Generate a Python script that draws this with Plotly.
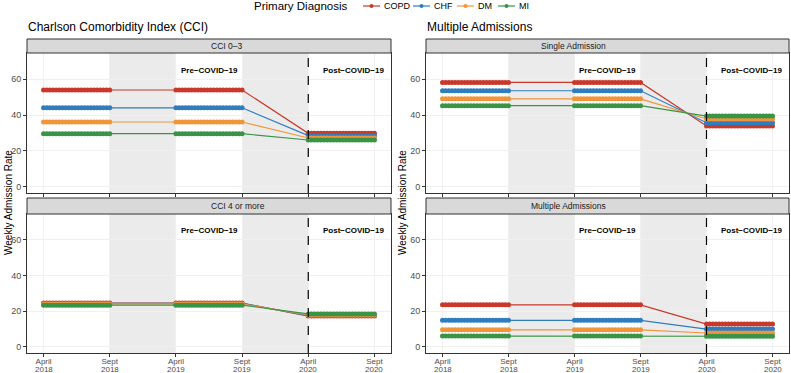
import numpy as np
import plotly.graph_objects as go

# ---------------- data ----------------
diagnoses = ["COPD", "CHF", "DM", "MI"]
colors = ["#C8392B", "#2F7DC0", "#F0953A", "#3A9445"]
period_starts = [0, 2, 4]           # index of April on the categorical time axis
weeks_per_period = 22
tick_months = ["April", "Sept", "April", "Sept", "April", "Sept"]
tick_years = ["2018", "2018", "2019", "2019", "2020", "2020"]
tick_pos = [0, 1, 2, 3, 4, 5]

# weekly admission rate level in each period (2018, 2019, 2020) per diagnosis
cci03 = {"COPD": [53.9, 53.9, 29.8], "CHF": [44.0, 44.0, 28.5],
         "DM": [36.1, 36.1, 27.2], "MI": [29.6, 29.6, 26.1]}
cci4 = {"COPD": [24.6, 24.6, 17.3], "CHF": [24.4, 24.4, 17.6],
        "DM": [24.1, 24.1, 17.9], "MI": [23.4, 23.4, 18.5]}
single = {"COPD": [58.1, 58.1, 33.9], "CHF": [53.5, 53.5, 35.7],
          "DM": [49.0, 49.0, 37.8], "MI": [45.2, 45.2, 39.4]}
multiple = {"COPD": [23.6, 23.6, 12.8], "CHF": [14.9, 14.9, 10.0],
            "DM": [9.6, 9.6, 7.8], "MI": [6.1, 6.1, 6.0]}

W, H = 791, 373
FONT = "Liberation Sans, Arial"

def px_x(p):
    return p / W

def px_y(p):
    return 1 - p / H

panels = [
    # (data, strip label, x px range, plot y px range (top, bottom), strip y px range)
    (cci03, "CCI 0\u20133", (27, 391), (53, 193), (39, 53)),
    (single, "Single Admission", (426, 789), (53, 193), (39, 53)),
    (cci4, "CCI 4 or more", (27, 391), (214, 353), (198, 214)),
    (multiple, "Multiple Admissions", (426, 789), (214, 353), (198, 214)),
]

fig = go.Figure()
shapes = []
annotations = []
layout_axes = {}

for i, (data, label, xr, yr, sr) in enumerate(panels):
    n = i + 1
    xa = "x" if n == 1 else f"x{n}"
    ya = "y" if n == 1 else f"y{n}"
    xkey = "xaxis" if n == 1 else f"xaxis{n}"
    ykey = "yaxis" if n == 1 else f"yaxis{n}"
    xd = [px_x(xr[0]), px_x(xr[1])]
    yd = [px_y(yr[1]), px_y(yr[0])]
    sd = [px_y(sr[1]), px_y(sr[0])]
    for d, c in zip(diagnoses, colors):
        xs, ys = [], []
        for p0, lvl in zip(period_starts, data[d]):
            wx = np.linspace(p0, p0 + 1, weeks_per_period)
            xs.extend(wx.tolist())
            ys.extend([lvl] * weeks_per_period)
        fig.add_trace(go.Scatter(
            x=xs, y=ys, mode="lines+markers", name=d,
            line=dict(color=c, width=1.2),
            marker=dict(color=c, size=5),
            showlegend=False, legendgroup=d,
            xaxis=xa, yaxis=ya, hoverinfo="skip"))
    layout_axes[xkey] = dict(
        domain=xd, anchor=ya, range=[-0.25, 5.25],
        tickmode="array", tickvals=tick_pos, ticktext=tick_months,
        tickfont=dict(size=8, color="#4D4D4D", family=FONT),
        ticks="outside", ticklen=3, tickcolor="#333333",
        ticklabelstandoff=-3,
        showline=True, mirror=True, linecolor="#333333", linewidth=1,
        showgrid=True, gridcolor="#F0F0F0", gridwidth=0.5, zeroline=False,
        showticklabels=(n >= 3), fixedrange=True)
    layout_axes[ykey] = dict(
        domain=yd, anchor=xa, range=[-3.4, 74.5],
        tickmode="array", tickvals=[0, 20, 40, 60], ticktext=["0", "20", "40", "60"],
        tickfont=dict(size=9, color="#4D4D4D", family=FONT),
        ticks="outside", ticklen=3, tickcolor="#333333",
        showline=True, mirror=True, linecolor="#333333", linewidth=1,
        showgrid=True, gridcolor="#F0F0F0", gridwidth=0.5, zeroline=False,
        fixedrange=True)
    if n >= 3:
        # second line of the x tick labels (year)
        for tp, yr_txt in zip(tick_pos, tick_years):
            annotations.append(dict(text=yr_txt, xref=xa, yref="paper", x=tp, y=px_y(369.5),
                                    xanchor="center", yanchor="middle", showarrow=False,
                                    font=dict(size=8, color="#4D4D4D", family=FONT)))
    # shaded gaps between observation periods
    for x0, x1 in [(1, 2), (3, 4)]:
        shapes.append(dict(type="rect", xref=xa, yref="paper", x0=x0, x1=x1, y0=yd[0], y1=yd[1],
                           fillcolor="#EBEBEB", line=dict(width=0), layer="below"))
    # COVID dashed line
    shapes.append(dict(type="line", xref=xa, yref="paper", x0=4, x1=4, y0=yd[0], y1=yd[1],
                       line=dict(color="black", width=1.2, dash="dash"), layer="above"))
    # strip
    shapes.append(dict(type="rect", xref="paper", yref="paper", x0=xd[0], x1=xd[1], y0=sd[0], y1=sd[1],
                       fillcolor="#D9D9D9", line=dict(color="#333333", width=1), layer="above"))
    annotations.append(dict(text=label, xref="paper", yref="paper", x=(xd[0] + xd[1]) / 2,
                            y=(sd[0] + sd[1]) / 2, showarrow=False, yanchor="middle",
                            font=dict(size=8.5, color="#1A1A1A", family=FONT)))
    annotations.append(dict(text="<b>Pre\u2212COVID\u221219</b>", xref=xa, yref=ya, x=2.5, y=65,
                            showarrow=False, font=dict(size=8, color="black", family=FONT)))
    annotations.append(dict(text="<b>Post\u2212COVID\u221219</b>", xref=xa, yref=ya, x=4.68, y=65,
                            showarrow=False, font=dict(size=8, color="black", family=FONT)))

# column titles
annotations.append(dict(text="Charlson Comorbidity Index (CCI)", xref="paper", yref="paper",
                        x=px_x(26), y=px_y(27), xanchor="left", yanchor="middle", showarrow=False,
                        font=dict(size=12, color="black", family=FONT)))
annotations.append(dict(text="Multiple Admissions", xref="paper", yref="paper",
                        x=px_x(425), y=px_y(27), xanchor="left", yanchor="middle", showarrow=False,
                        font=dict(size=12, color="black", family=FONT)))
# y axis titles
for xp in [8, 402]:
    annotations.append(dict(text="Weekly Admission Rate", xref="paper", yref="paper",
                            x=px_x(xp), y=px_y(203), textangle=-90, showarrow=False,
                            xanchor="center", yanchor="middle",
                            font=dict(size=10, color="black", family=FONT)))

# legend (drawn manually to match compact ggplot layout)
legend_y = px_y(6)
annotations.append(dict(text="Primary Diagnosis", xref="paper", yref="paper",
                        x=px_x(252), y=legend_y, xanchor="left", yanchor="middle", showarrow=False,
                        font=dict(size=11.5, color="black", family=FONT)))
legend_x = [363, 413, 457, 498]
for d, c, lx in zip(diagnoses, colors, legend_x):
    shapes.append(dict(type="line", xref="paper", yref="paper", x0=px_x(lx), x1=px_x(lx + 17),
                       y0=legend_y, y1=legend_y, line=dict(color=c, width=1.2)))
    shapes.append(dict(type="circle", xref="paper", yref="paper",
                       x0=px_x(lx + 6.5), x1=px_x(lx + 10.5), y0=legend_y - 2 / H, y1=legend_y + 2 / H,
                       fillcolor=c, line=dict(color=c, width=0)))
    annotations.append(dict(text=d, xref="paper", yref="paper", x=px_x(lx + 19), y=legend_y,
                            xanchor="left", yanchor="middle", showarrow=False,
                            font=dict(size=9, color="black", family=FONT)))

fig.update_layout(
    width=W, height=H,
    margin=dict(l=0, r=0, t=0, b=0, autoexpand=False),
    plot_bgcolor="white", paper_bgcolor="white",
    shapes=shapes, annotations=annotations,
    showlegend=False,
    **layout_axes,
)

fig.write_html("out.html", config={"displayModeBar": False},
               post_script="document.body.style.margin='0';")
